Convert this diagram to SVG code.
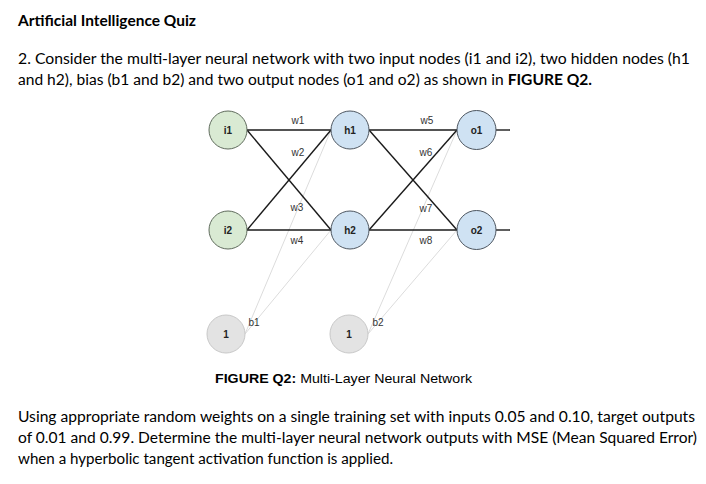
<svg xmlns="http://www.w3.org/2000/svg" width="706" height="484" viewBox="0 0 706 484">
<style>
.doc{font-family:Lato,"Open Sans","Liberation Sans",sans-serif;font-size:14.5px;fill:#000}
.b{font-weight:bold}
.cap{font-family:"Liberation Sans",Arial,sans-serif;font-size:13.5px;fill:#000}
.nl{font-family:"Liberation Sans",Arial,sans-serif;font-size:10px;font-weight:bold;fill:#222;text-anchor:middle}
.wl{font-family:"Liberation Sans",Arial,sans-serif;font-size:10px;fill:#333;text-anchor:middle}
.e{stroke:#1a1a1a;stroke-width:1.4;fill:none}
.bl{stroke:#dcdcdc;stroke-width:1;fill:none}
.in{fill:#d9ead3;stroke:#5f6b5c;stroke-width:1}
.hid{fill:#cfe2f3;stroke:#4d5660;stroke-width:1}
.bias{fill:#e3e3e3;stroke:#c8c8c8;stroke-width:1}
</style>
<rect width="706" height="484" fill="#fff"/>
<text class="doc b" x="18" y="26" textLength="178" lengthAdjust="spacingAndGlyphs">Artificial Intelligence Quiz</text>
<text class="doc" x="18" y="64" textLength="672" lengthAdjust="spacingAndGlyphs">2. Consider the multi-layer neural network with two input nodes (i1 and i2), two hidden nodes (h1</text>
<text class="doc" x="18" y="85" textLength="574" lengthAdjust="spacingAndGlyphs">and h2), bias (b1 and b2) and two output nodes (o1 and o2) as shown in <tspan class="b">FIGURE Q2.</tspan></text>

<g id="connectors">
<line class="bl" x1="245" y1="334" x2="331" y2="130"/>
<line class="bl" x1="245" y1="334" x2="331" y2="230"/>
<line class="bl" x1="368" y1="334" x2="457" y2="130"/>
<line class="bl" x1="368" y1="334" x2="457" y2="230"/>
<line class="e" x1="247" y1="130" x2="331" y2="130"/>
<line class="e" x1="247" y1="130" x2="331" y2="230"/>
<line class="e" x1="247" y1="230" x2="331" y2="130"/>
<line class="e" x1="247" y1="230" x2="331" y2="230"/>
<line class="e" x1="369" y1="130" x2="457" y2="130"/>
<line class="e" x1="369" y1="130" x2="457" y2="230"/>
<line class="e" x1="369" y1="230" x2="457" y2="130"/>
<line class="e" x1="369" y1="230" x2="457" y2="230"/>
<line class="e" x1="496" y1="130" x2="510" y2="130"/>
<line class="e" x1="496" y1="230" x2="510" y2="230"/>
<text class="wl" x="298" y="123.5">w1</text>
<text class="wl" x="298" y="155.5">w2</text>
<text class="wl" x="297" y="210.5">w3</text>
<text class="wl" x="297" y="243.5">w4</text>
<text class="wl" x="427" y="123.5">w5</text>
<text class="wl" x="426" y="155.5">w6</text>
<text class="wl" x="426" y="211.5">w7</text>
<text class="wl" x="426" y="243.5">w8</text>
<text class="wl" x="254" y="325.5">b1</text>
<text class="wl" x="378" y="325.5">b2</text>
</g>

<g id="i1"><circle class="in" cx="228" cy="130" r="19"/><text class="nl" x="228" y="133.5">i1</text></g>
<g id="i2"><circle class="in" cx="228" cy="230" r="19"/><text class="nl" x="228" y="233.5">i2</text></g>
<g id="h1"><circle class="hid" cx="350" cy="130" r="19"/><text class="nl" x="350" y="133.5">h1</text></g>
<g id="h2"><circle class="hid" cx="350" cy="230" r="19"/><text class="nl" x="350" y="233.5">h2</text></g>
<g id="o1"><circle class="hid" cx="476.5" cy="130" r="19.5"/><text class="nl" x="476.5" y="133.5">o1</text></g>
<g id="o2"><circle class="hid" cx="476.5" cy="230" r="19.5"/><text class="nl" x="476.5" y="233.5">o2</text></g>
<g id="bias1"><circle class="bias" cx="226" cy="334" r="19"/><text class="nl" x="226" y="337.5">1</text></g>
<g id="bias2"><circle class="bias" cx="349" cy="334" r="19"/><text class="nl" x="349" y="337.5">1</text></g>

<text class="cap" x="215" y="383" textLength="257" lengthAdjust="spacingAndGlyphs"><tspan font-weight="bold">FIGURE Q2:</tspan> Multi-Layer Neural Network</text>

<text class="doc" x="18" y="422" textLength="677" lengthAdjust="spacingAndGlyphs">Using appropriate random weights on a single training set with inputs 0.05 and 0.10, target outputs</text>
<text class="doc" x="18" y="443" textLength="679" lengthAdjust="spacingAndGlyphs">of 0.01 and 0.99. Determine the multi-layer neural network outputs with MSE (Mean Squared Error)</text>
<text class="doc" x="18" y="464" textLength="375" lengthAdjust="spacingAndGlyphs">when a hyperbolic tangent activation function is applied.</text>
</svg>
